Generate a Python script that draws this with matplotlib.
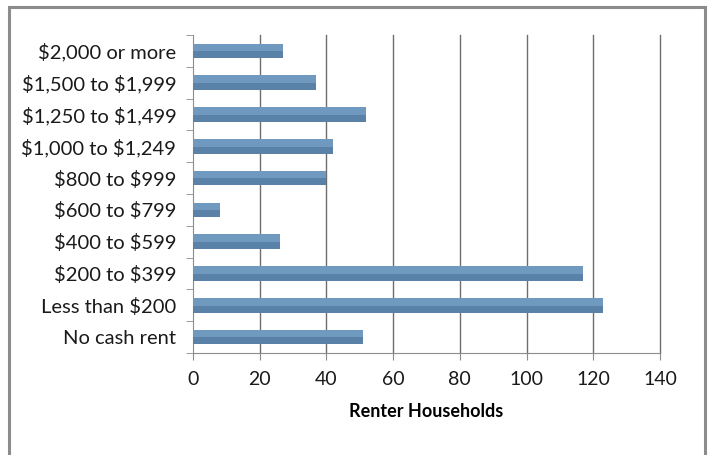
import matplotlib.pyplot as plt
from matplotlib.patches import Rectangle
import numpy as np

categories = ["No cash rent", "Less than $200", "$200 to $399", "$400 to $599",
              "$600 to $799", "$800 to $999", "$1,000 to $1,249",
              "$1,250 to $1,499", "$1,500 to $1,999", "$2,000 or more"]
households = [51, 123, 117, 26, 8, 40, 42, 52, 37, 27]
xticks = [0, 20, 40, 60, 80, 100, 120, 140]

plt.rcParams['font.family'] = ['Lato', 'DejaVu Sans']
plt.rcParams['text.parse_math'] = False

fig = plt.figure(figsize=(7.1, 4.55), dpi=100)
ax = fig.add_axes([193 / 710, 1 - 353 / 455, (660 - 193) / 710, (353 - 35) / 455])

# outer chart frame
fig.patches.append(Rectangle((9 / 710, -0.02), 696 / 710, 1 - 7 / 455 + 0.02,
                             transform=fig.transFigure, fill=False,
                             edgecolor='#8c8c8c', linewidth=2.2))

y = np.arange(len(categories))
ax.barh(y, households, height=0.46, color='#7099c0', linewidth=0, zorder=3)
# darker lower part gives the bars a shaded look
ax.barh(y - 0.12, households, height=0.22, color='#5a82a9', linewidth=0, zorder=4)

ax.set_xlim(0, 140)
ax.set_ylim(-0.5, len(categories) - 0.5)
ax.set_xticks(xticks)
ax.set_yticks(y)
ax.set_yticklabels(categories, fontsize=14.5, color='#1a1a1a')
ax.set_yticks(np.arange(-0.5, len(categories), 1), minor=True)
ax.tick_params(axis='y', which='major', length=0, pad=12)
ax.tick_params(axis='y', which='minor', length=5, color='#8c8c8c')
ax.tick_params(axis='x', length=5, color='#8c8c8c', labelsize=14, pad=8,
               labelcolor='#1a1a1a')

for xv in xticks[1:]:
    ax.axvline(xv, color='#6e6e6e', linewidth=1.0, zorder=0, clip_on=False)
for side in ['top', 'right']:
    ax.spines[side].set_visible(False)
for side in ['left', 'bottom']:
    ax.spines[side].set_color('#8c8c8c')

ax.set_xlabel("Renter Households", fontsize=13, fontweight='bold', labelpad=11)

fig.savefig("out.png", dpi=100)
